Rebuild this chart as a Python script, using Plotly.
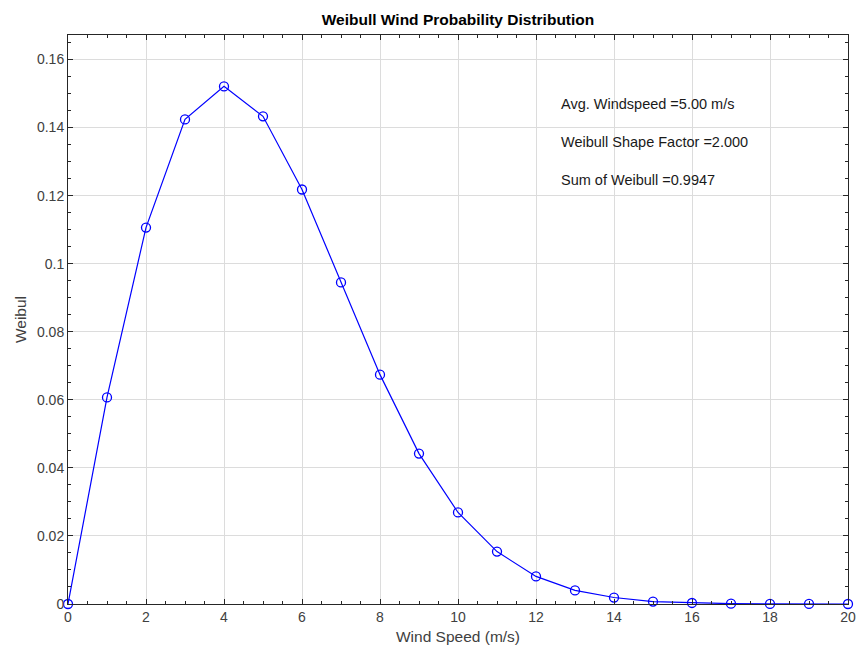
import plotly.graph_objects as go

wind_speed = list(range(0, 21))
weibull = [0.0, 0.0607, 0.1106, 0.1424, 0.1521, 0.1433, 0.1218, 0.0945, 0.0674,
           0.0442, 0.0269, 0.0154, 0.0081, 0.0040, 0.0019, 0.0007, 0.0003,
           0.0001, 0.00003, 0.00001, 0.000003]
info_texts = ["Avg. Windspeed =5.00 m/s", "Weibull Shape Factor =2.000", "Sum of Weibull =0.9947"]
info_y = [0.1468, 0.1359, 0.1245]
info_x = 12.6

FONT = "Liberation Sans, Arial, Helvetica, sans-serif"
AX = "#262626"
TXT = "#404040"

W, H = 856, 650

fig = go.Figure()
fig.add_trace(go.Scatter(
    x=wind_speed, y=weibull, mode="lines+markers",
    line=dict(color="#0000ff", width=1.2),
    marker=dict(symbol="circle-open", size=9, color="#0000ff", line=dict(width=1.3)),
    showlegend=False, cliponaxis=False,
))
for t, yy in zip(info_texts, info_y):
    fig.add_annotation(x=info_x, y=yy, text=t, showarrow=False, xanchor="left",
                       yanchor="middle", font=dict(family=FONT, size=14.5, color="#1a1a1a"))

axis_common = dict(
    showline=True, linecolor=AX, linewidth=1, mirror="ticks",
    ticks="inside", ticklen=5, tickcolor=AX, tickwidth=1,
    showgrid=True, gridcolor="#dcdcdc", gridwidth=1, zeroline=False,
    tickfont=dict(family=FONT, size=14, color=TXT), automargin=False,
)
fig.update_xaxes(range=[0, 20], dtick=2, tick0=0,
                 minor=dict(ticks="inside", ticklen=3, dtick=0.5, tickcolor=AX, showgrid=False),
                 title=dict(text="Wind Speed (m/s)", font=dict(family=FONT, size=15.5, color=TXT), standoff=7),
                 **axis_common)
fig.update_yaxes(range=[0, 0.1672], dtick=0.02, tick0=0, tickformat="~g",
                 minor=dict(ticks="inside", ticklen=3, dtick=0.005, tickcolor=AX, showgrid=False),
                 title=dict(text="Weibul", font=dict(family=FONT, size=15.5, color=TXT), standoff=6),
                 **axis_common)
fig.update_layout(
    width=W, height=H,
    margin=dict(l=68, r=8, t=35, b=46),
    plot_bgcolor="white", paper_bgcolor="white",
    title=dict(text="<b>Weibull Wind Probability Distribution</b>", x=458 / W, xanchor="center",
               y=1 - 20 / H, yanchor="middle", font=dict(family=FONT, size=15.5, color="#000000")),
)
fig.write_html("out.html", config={"displayModeBar": False},
               post_script="document.body.style.margin='0';document.body.style.overflow='hidden';")
